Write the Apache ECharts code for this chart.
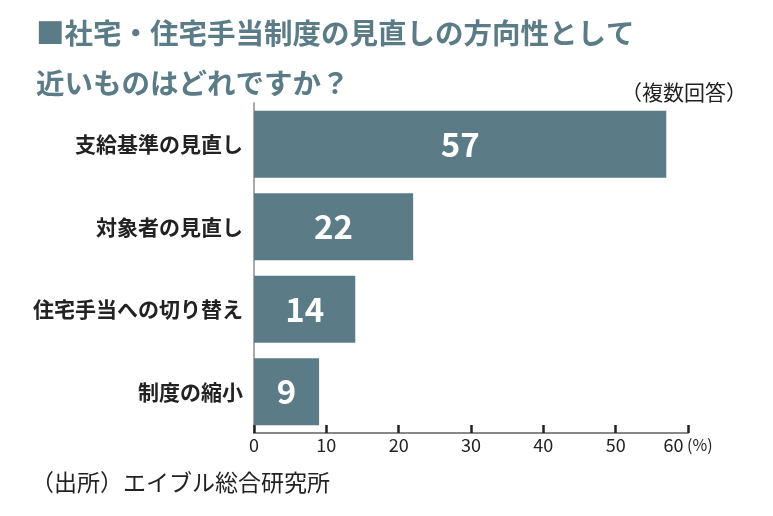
<!DOCTYPE html>
<html><head><meta charset="utf-8">
<script src="https://cdn.jsdelivr.net/npm/echarts@6/dist/echarts.min.js"></script>
<style>html,body{margin:0;padding:0;background:#fff}#c{width:773px;height:516px}</style>
</head><body><div id="c"></div>
<script>
const categories = ['支給基準の見直し', '対象者の見直し', '住宅手当への切り替え', '制度の縮小'];
const values = [57, 22, 14, 9];
const xTicks = [0, 10, 20, 30, 40, 50, 60];

const font = '"Noto Sans CJK JP", "Noto Sans", sans-serif';
const chart = echarts.init(document.getElementById('c'));
chart.setOption({
  animation: false,
  textStyle: { fontFamily: font },
  title: [
    { text: '■社宅・住宅手当制度の見直しの方向性として\n近いものはどれですか？', left: 31, top: 3,
      textStyle: { fontFamily: font, fontSize: 28.5, fontWeight: 'bold', color: '#5b7c87', lineHeight: 50 } },
    { text: '（複数回答）', right: 21, top: 77,
      textStyle: { fontFamily: font, fontSize: 21, fontWeight: 'normal', color: '#222' } },
    { text: '（出所）エイブル総合研究所', left: 26, top: 466,
      textStyle: { fontFamily: font, fontSize: 23, fontWeight: 'normal', color: '#222' } }
  ],
  grid: { left: 254, right: 85, top: 103, bottom: 83, containLabel: false },
  xAxis: {
    type: 'value', min: xTicks[0], max: xTicks[xTicks.length - 1], interval: 10,
    axisLine: { show: true, lineStyle: { color: '#888', width: 2 } },
    axisTick: { show: true, inside: true, length: 8, lineStyle: { color: '#222', width: 2.5 } },
    splitLine: { show: false },
    axisLabel: { fontFamily: font, fontSize: 18, color: '#222', margin: 3,
      formatter: v => v === 60 ? '{a|60}{b| (%)}' : String(v),
      rich: { a: { fontSize: 18, color: '#222', fontFamily: font }, b: { fontSize: 16, color: '#222', fontFamily: font } } }
  },
  yAxis: {
    type: 'category', data: categories, inverse: true,
    axisLine: { show: true, lineStyle: { color: '#aaa', width: 2 } },
    axisTick: { show: false },
    axisLabel: { fontFamily: font, fontSize: 21, fontWeight: 'bold', color: '#222', margin: 11 }
  },
  series: [{
    type: 'bar', data: values, barCategoryGap: '18.5%',
    itemStyle: { color: '#5b7c87' },
    label: { show: true, position: 'inside', color: '#fff', fontSize: 33, fontWeight: 'bold', fontFamily: font }
  }]
});
</script></body></html>
